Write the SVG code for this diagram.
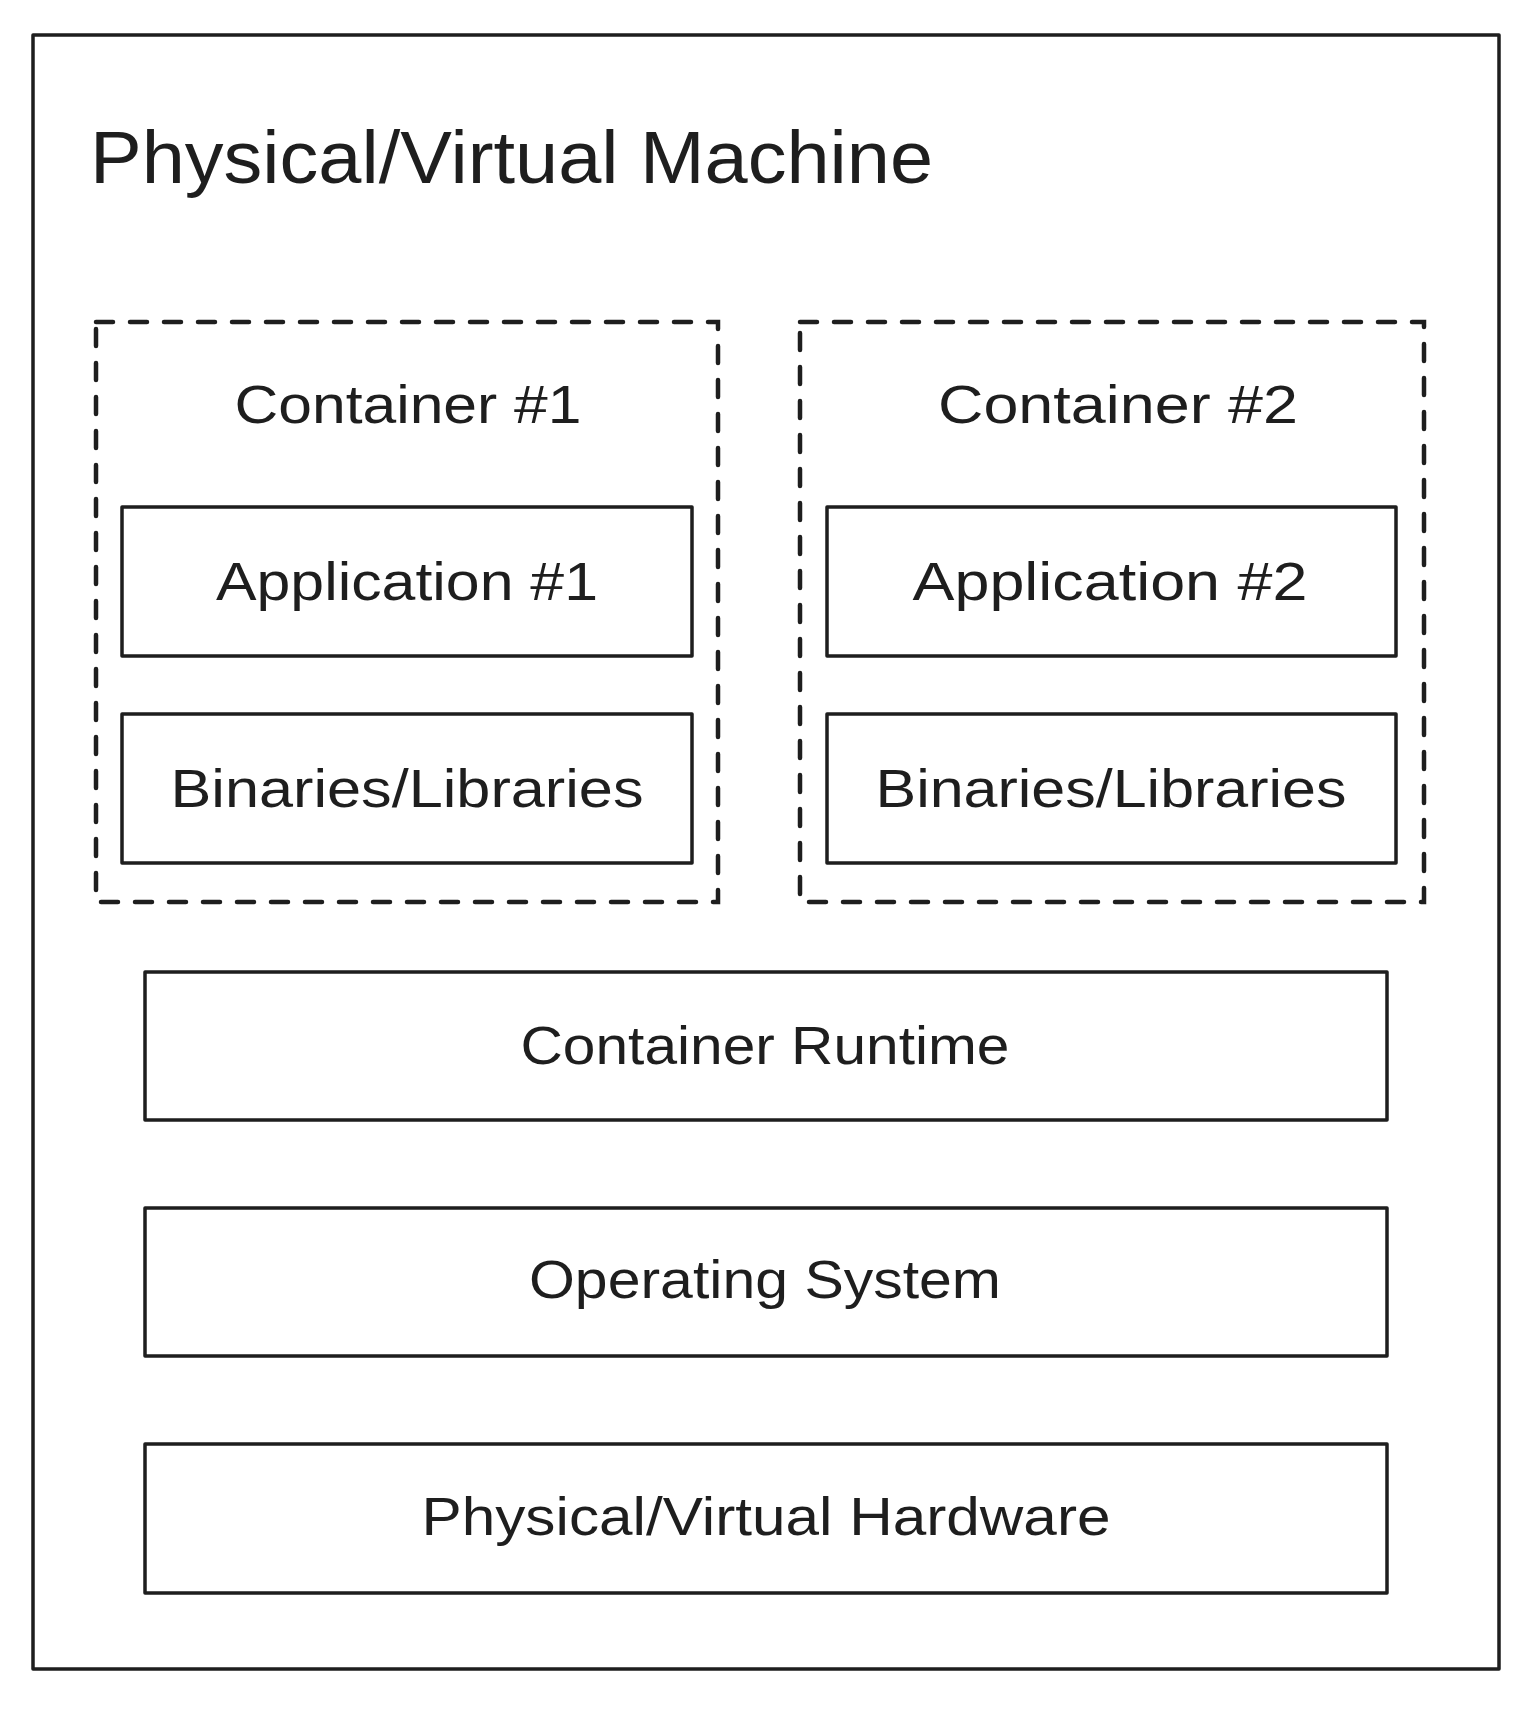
<svg xmlns="http://www.w3.org/2000/svg" width="1524" height="1710" viewBox="0 0 1524 1710">
<style>
.box{fill:none;stroke:#1e1e1e;stroke-width:3.5;stroke-linejoin:round}
.dash{fill:none;stroke:#1e1e1e;stroke-width:4.5;stroke-dasharray:17 17;stroke-linecap:round}
.lbl{font-family:"Liberation Sans",Arial,sans-serif;fill:#1e1e1e;font-size:54px;text-anchor:middle}
.title{font-family:"Liberation Sans",Arial,sans-serif;fill:#1e1e1e;font-size:74px}
</style>
<rect width="1524" height="1710" fill="#ffffff"/>
<g id="machine">
<rect class="box" x="33" y="35" width="1466" height="1634"/>
<text class="title" x="90" y="183" textLength="843" lengthAdjust="spacingAndGlyphs">Physical/Virtual Machine</text>
</g>
<g id="container1">
<rect class="dash" x="96" y="322" width="622" height="580"/>
<text class="lbl" x="408" y="423" textLength="347" lengthAdjust="spacingAndGlyphs">Container #1</text>
</g>
<g id="app1">
<rect class="box" x="122" y="507" width="570" height="149"/>
<text class="lbl" x="407" y="600" textLength="382" lengthAdjust="spacingAndGlyphs">Application #1</text>
</g>
<g id="bin1">
<rect class="box" x="122" y="714" width="570" height="149"/>
<text class="lbl" x="407" y="807" textLength="473" lengthAdjust="spacingAndGlyphs">Binaries/Libraries</text>
</g>
<g id="container2">
<rect class="dash" x="800" y="322" width="624" height="580"/>
<text class="lbl" x="1118" y="423" textLength="360" lengthAdjust="spacingAndGlyphs">Container #2</text>
</g>
<g id="app2">
<rect class="box" x="827" y="507" width="569" height="149"/>
<text class="lbl" x="1110" y="600" textLength="395" lengthAdjust="spacingAndGlyphs">Application #2</text>
</g>
<g id="bin2">
<rect class="box" x="827" y="714" width="569" height="149"/>
<text class="lbl" x="1111" y="807" textLength="471" lengthAdjust="spacingAndGlyphs">Binaries/Libraries</text>
</g>
<g id="runtime">
<rect class="box" x="145" y="972" width="1242" height="148"/>
<text class="lbl" x="765" y="1064" textLength="489" lengthAdjust="spacingAndGlyphs">Container Runtime</text>
</g>
<g id="os">
<rect class="box" x="145" y="1208" width="1242" height="148"/>
<text class="lbl" x="765" y="1298" textLength="472" lengthAdjust="spacingAndGlyphs">Operating System</text>
</g>
<g id="hardware">
<rect class="box" x="145" y="1444" width="1242" height="149"/>
<text class="lbl" x="766" y="1535" textLength="689" lengthAdjust="spacingAndGlyphs">Physical/Virtual Hardware</text>
</g>
<g id="connectors"></g>
</svg>
